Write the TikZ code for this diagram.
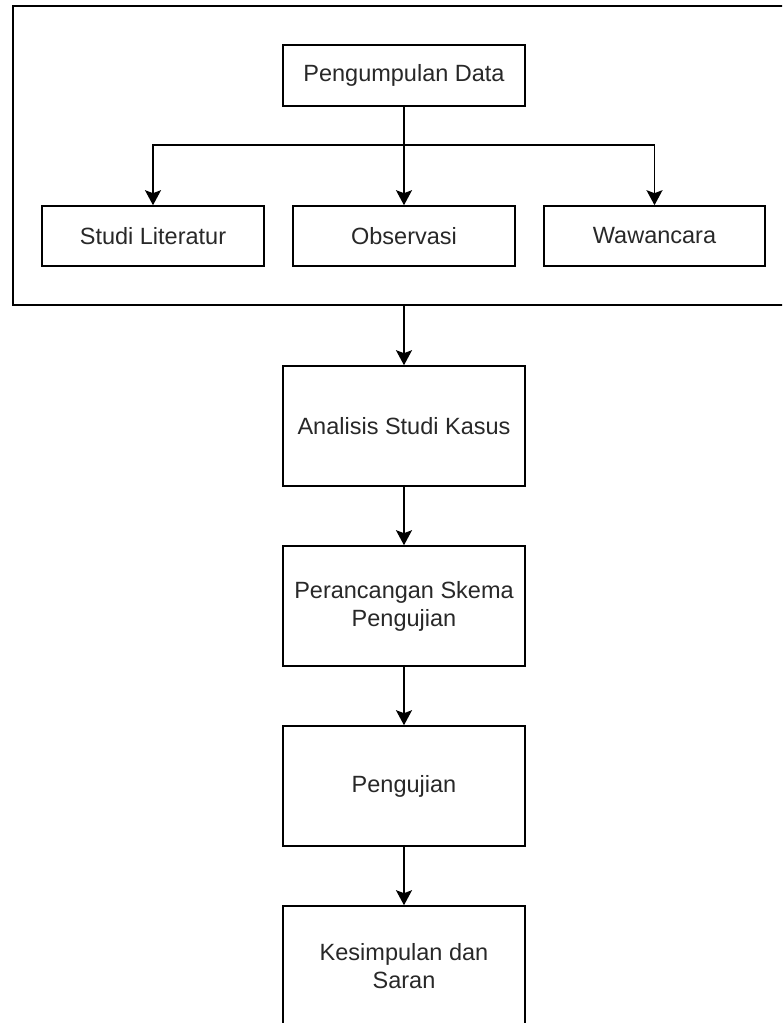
\documentclass[tikz,border=0pt]{standalone}
\usepackage{fontspec}
\setmainfont{Liberation Sans}
\usetikzlibrary{arrows.meta}
\definecolor{txt}{RGB}{40,40,40}
\begin{document}
\begin{tikzpicture}[x=1pt,y=-1pt,
  box/.style={draw=black, line width=1.6pt, rectangle, inner sep=0pt, align=center,
    text=txt, font=\fontsize{23.5}{28}\selectfont},
  small/.style={box, minimum width=222pt, minimum height=60pt},
  big/.style={box, minimum width=242pt, minimum height=120pt},
  arr/.style={draw=black, line width=1.6pt, -{Stealth[length=15pt,width=16pt,inset=3pt]}}]
\useasboundingbox (0,0) rectangle (782,1023);
\clip (0,0) rectangle (782,1023);
\fill[white] (0,0) rectangle (782,1023);
\node[draw=black, line width=1.6pt, minimum width=787pt, minimum height=299pt, inner sep=0pt] (grp) at (406.5,155.5) {};
\node[box, minimum width=242pt, minimum height=61pt] (pd) at (404,75.5) {Pengumpulan Data};
\node[small] (sl) at (153,236) {Studi Literatur};
\node[small] (obs) at (404,236) {Observasi};
\node[small, minimum width=221pt] (waw) at (654.5,236) {Wawancara};
\node[big] (ana) at (404,426) {Analisis Studi Kasus};
\node[big] (per) at (404,606) {Perancangan Skema\\Pengujian};
\node[big] (uji) at (404,786) {Pengujian};
\node[big] (kes) at (404,966) {Kesimpulan dan\\Saran};
\coordinate (split) at (404,145);
\draw[arr] (pd.south) -- (obs.north);
\draw[arr] (split) -| (sl.north);
\draw[arr] (split) -| (waw.north);
\draw[arr] (grp.south -| ana.north) -- (ana.north);
\draw[arr] (ana.south) -- (per.north);
\draw[arr] (per.south) -- (uji.north);
\draw[arr] (uji.south) -- (kes.north);
\end{tikzpicture}
\end{document}
